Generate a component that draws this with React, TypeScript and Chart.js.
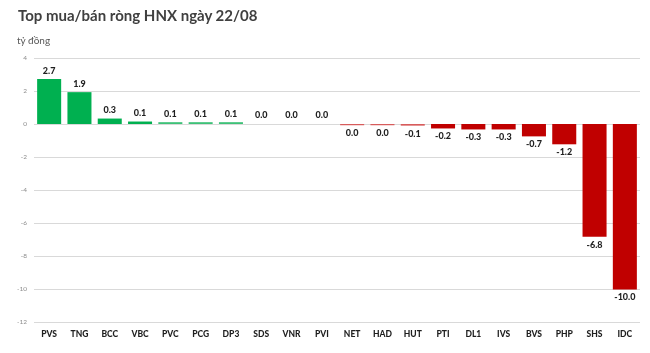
import React, { useEffect, useRef } from "react";
import { Chart, registerables } from "chart.js";

Chart.register(...registerables);

const categories = ["PVS", "TNG", "BCC", "VBC", "PVC", "PCG", "DP3", "SDS", "VNR", "PVI", "NET", "HAD", "HUT", "PTI", "DL1", "IVS", "BVS", "PHP", "SHS", "IDC"];
const netValues = [2.7, 1.9, 0.3, 0.12, 0.08, 0.08, 0.08, 0.0, 0.0, 0.0, -0.045, -0.045, -0.07, -0.24, -0.3, -0.3, -0.72, -1.2, -6.8, -10.0];
const yTicks = { min: -12, max: 4, step: 2 };
const titleText = "Top mua/bán ròng HNX ngày 22/08";
const unitText = "tỷ đồng";

const GREEN = "#00B050";
const RED = "#C00000";
const GREEN_LIGHT = "#3dc177";
const RED_LIGHT = "#d75c5c";

function fmt(v: number): string {
  const r = Math.round(v * 10) / 10;
  if (r === 0) return "0.0";
  return r.toFixed(1);
}

function fillFor(v: number): string {
  const tiny = Math.abs(v) < 0.1;
  if (v >= 0) return tiny ? GREEN_LIGHT : GREEN;
  return tiny ? RED_LIGHT : RED;
}

const labelPlugin = {
  id: "barLabels",
  afterDatasetsDraw(chart: any) {
    const { ctx } = chart;
    const meta = chart.getDatasetMeta(0);
    ctx.save();
    ctx.font = "900 9px Lato, 'Liberation Sans', sans-serif";
    ctx.fillStyle = "#1f1f1f";
    ctx.textAlign = "center";
    meta.data.forEach((bar: any, i: number) => {
      const v = netValues[i];
      const txt = fmt(v);
      if (v >= 0) {
        ctx.textBaseline = "bottom";
        ctx.fillText(txt, bar.x, Math.min(bar.y, bar.base) - 4);
      } else {
        ctx.textBaseline = "top";
        ctx.fillText(txt, bar.x, Math.max(bar.y, bar.base) + 4);
      }
    });
    ctx.restore();
  },
};

export default function App() {
  const ref = useRef<HTMLCanvasElement | null>(null);
  useEffect(() => {
    if (!ref.current) return;
    const chart = new Chart(ref.current, {
      type: "bar",
      data: {
        labels: categories,
        datasets: [
          {
            data: netValues,
            backgroundColor: netValues.map(fillFor),
            borderWidth: 0,
            inflateAmount: netValues.map((v) => (v === 0 ? 0 : 0.5)),
            categoryPercentage: 1,
            barPercentage: 0.76,
          } as any,
        ],
      },
      options: {
        animation: false,
        responsive: false,
        maintainAspectRatio: false,
        layout: { padding: { top: 58, right: 10, left: 0, bottom: 0 } },
        plugins: {
          legend: { display: false },
          tooltip: { enabled: false },
          title: { display: false },
        },
        scales: {
          x: {
            grid: { display: false, drawTicks: false },
            border: { display: false },
            ticks: {
              padding: 7,
              color: "#1f1f1f",
              font: { size: 8.5, weight: "900", family: "Lato, 'Liberation Sans', sans-serif" },
              maxRotation: 0,
              autoSkip: false,
            },
            afterFit(axis: any) {
              axis.height = 31;
            },
          },
          y: {
            min: yTicks.min,
            max: yTicks.max,
            grid: { color: "#d9d9d9", drawTicks: false, lineWidth: 1 },
            border: { display: false },
            ticks: {
              stepSize: yTicks.step,
              padding: 7,
              color: "#8c8c8c",
              font: { size: 6.5, family: "Lato, 'Liberation Sans', sans-serif" },
            },
            afterFit(axis: any) {
              axis.width = 34;
            },
          },
        },
      },
      plugins: [labelPlugin],
    });
    return () => chart.destroy();
  }, []);

  return (
    <div style={{ position: "absolute", left: 0, top: 0, width: 650, height: 353, background: "#fff", overflow: "hidden" }}>
      <canvas ref={ref} width={650} height={353} style={{ position: "absolute", left: 0, top: 0 }} />
      <div
        style={{
          position: "absolute",
          left: 18,
          top: 6,
          fontFamily: "Lato, 'Liberation Sans', sans-serif",
          fontWeight: 700,
          fontSize: 15,
          color: "#404040",
          whiteSpace: "nowrap",
        }}
      >
        {titleText}
      </div>
      <div
        style={{
          position: "absolute",
          left: 17,
          top: 34,
          fontFamily: "Lato, 'Liberation Sans', sans-serif",
          fontSize: 10,
          color: "#595959",
          whiteSpace: "nowrap",
        }}
      >
        {unitText}
      </div>
    </div>
  );
}
